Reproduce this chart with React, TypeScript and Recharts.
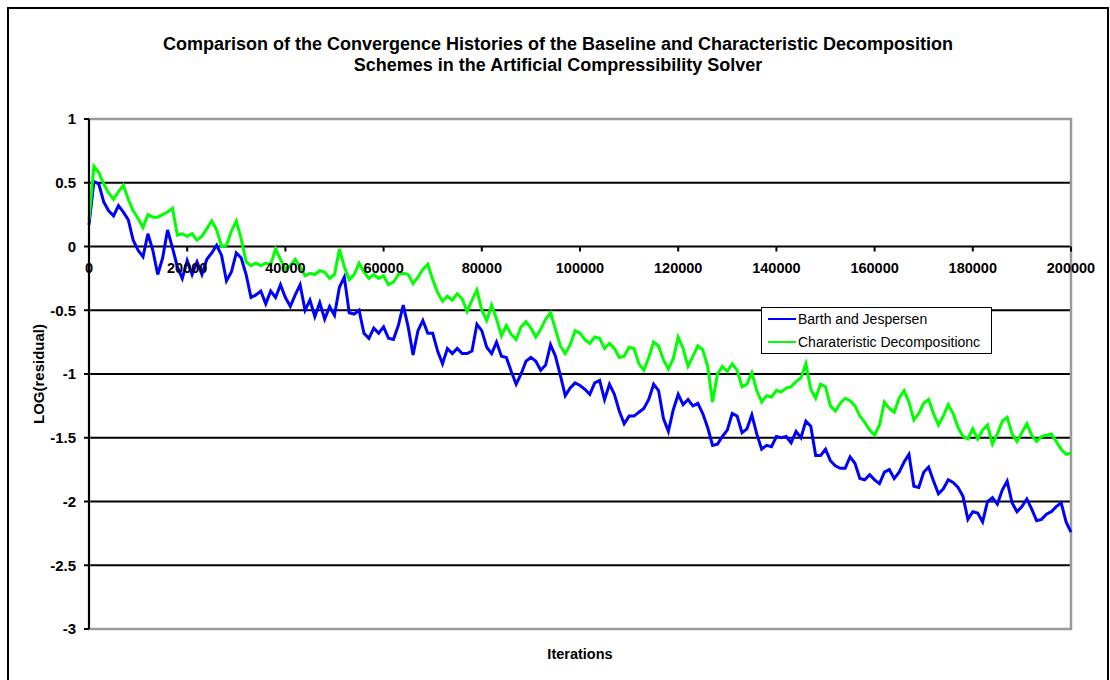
import React from 'react';
import {
  LineChart,
  Line,
  XAxis,
  YAxis,
  CartesianGrid,
  ReferenceArea,
  ReferenceDot,
} from 'recharts';

// log10 of the residual, sampled every SAMPLE_STEP iterations (0 .. 200000)
const SAMPLE_STEP = 1000;

const barthJespersen = [
  0.17, 0.51, 0.49, 0.35, 0.28, 0.24, 0.32, 0.27, 0.21, 0.05,
  -0.03, -0.08, 0.1, -0.03, -0.22, -0.09, 0.13, -0.01, -0.16, -0.25,
  -0.11, -0.22, -0.12, -0.22, -0.1, -0.05, 0.01, -0.07, -0.27, -0.2,
  -0.05, -0.09, -0.22, -0.4, -0.38, -0.35, -0.45, -0.35, -0.4, -0.3,
  -0.4, -0.47, -0.38, -0.3, -0.5, -0.42, -0.55, -0.44, -0.57, -0.47,
  -0.54, -0.32, -0.24, -0.52, -0.53, -0.5, -0.68, -0.72, -0.64, -0.68,
  -0.63, -0.72, -0.73, -0.62, -0.46, -0.63, -0.85, -0.66, -0.58, -0.68,
  -0.68, -0.82, -0.92, -0.8, -0.84, -0.8, -0.84, -0.84, -0.82, -0.61,
  -0.66, -0.79, -0.84, -0.75, -0.86, -0.87, -0.98, -1.08, -1.0, -0.9,
  -0.87, -0.9, -0.97, -0.93, -0.77, -0.86, -1.01, -1.17, -1.11, -1.07,
  -1.09, -1.12, -1.16, -1.07, -1.05, -1.2, -1.08, -1.16, -1.29, -1.39,
  -1.33, -1.33, -1.3, -1.27, -1.2, -1.08, -1.13, -1.35, -1.45, -1.28,
  -1.16, -1.24, -1.2, -1.25, -1.23, -1.31, -1.42, -1.56, -1.55, -1.49,
  -1.44, -1.31, -1.33, -1.46, -1.43, -1.32, -1.47, -1.59, -1.56, -1.57,
  -1.49, -1.5, -1.49, -1.54, -1.45, -1.5, -1.37, -1.41, -1.64, -1.64,
  -1.59, -1.68, -1.72, -1.74, -1.74, -1.65, -1.7, -1.82, -1.83, -1.79,
  -1.83, -1.86, -1.77, -1.75, -1.82, -1.77, -1.69, -1.63, -1.88, -1.89,
  -1.77, -1.73, -1.84, -1.94, -1.9, -1.83, -1.85, -1.89, -1.96, -2.14,
  -2.08, -2.09, -2.16, -2.0, -1.97, -2.02, -1.91, -1.84, -2.01, -2.08,
  -2.04, -1.98, -2.06, -2.15, -2.14, -2.1, -2.08, -2.04, -2.01, -2.16,
  -2.24,
];

const charDecomposition = [
  0.21, 0.63, 0.58, 0.49, 0.42, 0.37, 0.43, 0.48, 0.37, 0.28,
  0.22, 0.15, 0.25, 0.23, 0.23, 0.25, 0.27, 0.3, 0.09, 0.1,
  0.08, 0.1, 0.05, 0.08, 0.14, 0.2, 0.13, 0.0, 0.01, 0.12,
  0.2, 0.06, -0.12, -0.15, -0.13, -0.15, -0.13, -0.14, -0.02, -0.1,
  -0.18, -0.15, -0.1, -0.16, -0.23, -0.21, -0.22, -0.19, -0.2, -0.25,
  -0.22, -0.02, -0.16, -0.26, -0.22, -0.13, -0.2, -0.25, -0.22, -0.25,
  -0.23, -0.3, -0.28, -0.22, -0.21, -0.22, -0.29, -0.24, -0.18, -0.14,
  -0.26, -0.36, -0.43, -0.39, -0.42, -0.37, -0.41, -0.51, -0.42, -0.34,
  -0.5, -0.58, -0.46, -0.57, -0.7, -0.62, -0.69, -0.73, -0.63, -0.59,
  -0.64, -0.71, -0.65, -0.57, -0.52, -0.65, -0.78, -0.84, -0.77, -0.66,
  -0.68, -0.73, -0.76, -0.71, -0.72, -0.8, -0.76, -0.8, -0.87, -0.86,
  -0.79, -0.8, -0.92, -0.97, -0.87, -0.75, -0.78, -0.89, -0.96, -0.88,
  -0.71, -0.8, -0.94, -0.86, -0.78, -0.81, -0.94, -1.22, -1.0, -0.94,
  -0.98, -0.92, -0.97, -1.1, -1.08, -0.99, -1.13, -1.22, -1.17, -1.18,
  -1.13, -1.14, -1.11, -1.1, -1.06, -1.03, -0.92, -1.12, -1.19, -1.08,
  -1.1, -1.25, -1.29, -1.23, -1.19, -1.21, -1.25, -1.33, -1.38, -1.44,
  -1.48, -1.4, -1.22, -1.27, -1.3, -1.19, -1.13, -1.22, -1.36, -1.31,
  -1.23, -1.2, -1.31, -1.4, -1.33, -1.24, -1.31, -1.42, -1.49, -1.51,
  -1.43, -1.51, -1.44, -1.4, -1.55, -1.47, -1.37, -1.34, -1.47, -1.53,
  -1.46, -1.39, -1.48, -1.53, -1.49, -1.48, -1.47, -1.53, -1.59, -1.63,
  -1.62,
];

const xTicks = [0, 20000, 40000, 60000, 80000, 100000, 120000, 140000, 160000, 180000, 200000];
const yTicks = [1, 0.5, 0, -0.5, -1, -1.5, -2, -2.5, -3];

const seriesNames = ['Barth and Jespersen', 'Charateristic Decompositionc'];
const seriesColors = ['#0000ff', '#00ff00'];

const titleLines = [
  'Comparison of the Convergence Histories of the Baseline and Characteristic Decomposition',
  'Schemes in the Artificial Compressibility Solver',
];

const FONT = '"Liberation Sans", Arial, sans-serif';

type Row = { iter: number; barth: number; charDec: number };

const data: Row[] = barthJespersen.map((v, i) => ({
  iter: i * SAMPLE_STEP,
  barth: v,
  charDec: charDecomposition[i],
}));

// x axis sits on the zero line, so its ticks and labels are drawn as reference dots
const xTickShape = (label: number) => (props: any) => {
  const { cx, cy } = props;
  return (
    <g>
      <line x1={cx} y1={cy} x2={cx} y2={cy + 5} stroke="#000" strokeWidth={2} />
      <text
        x={cx}
        y={cy + 26}
        textAnchor="middle"
        fontFamily={FONT}
        fontWeight="bold"
        fontSize={14.5}
        fill="#000"
      >
        {label}
      </text>
    </g>
  );
};

const yAxisLabel = (props: any) => {
  const { viewBox } = props;
  const x = viewBox.x + 9;
  const y = viewBox.y + viewBox.height / 2;
  return (
    <text
      x={x}
      y={y}
      transform={`rotate(-90 ${x} ${y})`}
      textAnchor="middle"
      dominantBaseline="central"
      fontFamily={FONT}
      fontWeight="bold"
      fontSize={15}
      fill="#000"
    >
      LOG(residual)
    </text>
  );
};

const LegendBox = () => (
  <div
    style={{
      position: 'absolute',
      left: 761,
      top: 307,
      width: 231,
      height: 47,
      boxSizing: 'border-box',
      border: '1px solid #000',
      background: '#fff',
      fontFamily: FONT,
      fontSize: 14,
      color: '#000',
    }}
  >
    {seriesNames.map((name, i) => (
      <div key={name} style={{ display: 'flex', alignItems: 'center', height: 22.5 }}>
        <div style={{ width: 28, height: 2, marginLeft: 6, marginRight: 2, background: seriesColors[i] }} />
        <span style={{ whiteSpace: 'nowrap' }}>{name}</span>
      </div>
    ))}
  </div>
);

export default function App() {
  return (
    <div
      style={{
        position: 'absolute',
        left: 0,
        top: 0,
        width: 1110,
        height: 680,
        overflow: 'hidden',
        background: '#fff',
      }}
    >
      <div
        style={{
          position: 'absolute',
          left: 7,
          top: 7,
          width: 1102,
          height: 720,
          boxSizing: 'border-box',
          border: '2px solid #000',
        }}
      />
      <div
        style={{
          position: 'absolute',
          left: 7,
          top: 34,
          width: 1102,
          textAlign: 'center',
          fontFamily: FONT,
          fontWeight: 'bold',
          fontSize: 18,
          lineHeight: '21px',
        }}
      >
        {titleLines.map((t) => (
          <div key={t}>{t}</div>
        ))}
      </div>
      <div
        style={{
          position: 'absolute',
          left: 480,
          top: 646,
          width: 200,
          textAlign: 'center',
          fontFamily: FONT,
          fontWeight: 'bold',
          fontSize: 14.5,
        }}
      >
        Iterations
      </div>
      <div style={{ position: 'absolute', left: 0, top: 0 }}>
        <LineChart
          width={1110}
          height={680}
          data={data}
          margin={{ top: 119, right: 39, bottom: 51, left: 29 }}
        >
          <CartesianGrid vertical={false} stroke="#000" strokeWidth={2} />
          <ReferenceArea
            x1={0}
            x2={200000}
            y1={-3}
            y2={1}
            fill="none"
            stroke="#9a9a9a"
            strokeWidth={2.5}
            strokeOpacity={1}
          />
          <XAxis dataKey="iter" type="number" domain={[0, 200000]} ticks={xTicks} hide />
          <YAxis
            type="number"
            domain={[-3, 1]}
            ticks={yTicks}
            interval={0}
            width={60}
            axisLine={{ stroke: '#000', strokeWidth: 2 }}
            tickLine={{ stroke: '#000', strokeWidth: 2 }}
            tickSize={5}
            tickMargin={8}
            tick={{ fill: '#000', fontFamily: FONT, fontWeight: 'bold', fontSize: 15 }}
            label={yAxisLabel}
          />
          {xTicks.map((t) => (
            <ReferenceDot key={t} x={t} y={0} r={0} shape={xTickShape(t)} />
          ))}
          <Line
            type="linear"
            dataKey="barth"
            name={seriesNames[0]}
            stroke={seriesColors[0]}
            strokeWidth={3}
            dot={false}
            isAnimationActive={false}
          />
          <Line
            type="linear"
            dataKey="charDec"
            name={seriesNames[1]}
            stroke={seriesColors[1]}
            strokeWidth={3}
            dot={false}
            isAnimationActive={false}
          />
        </LineChart>
      </div>
      <LegendBox />
    </div>
  );
}
